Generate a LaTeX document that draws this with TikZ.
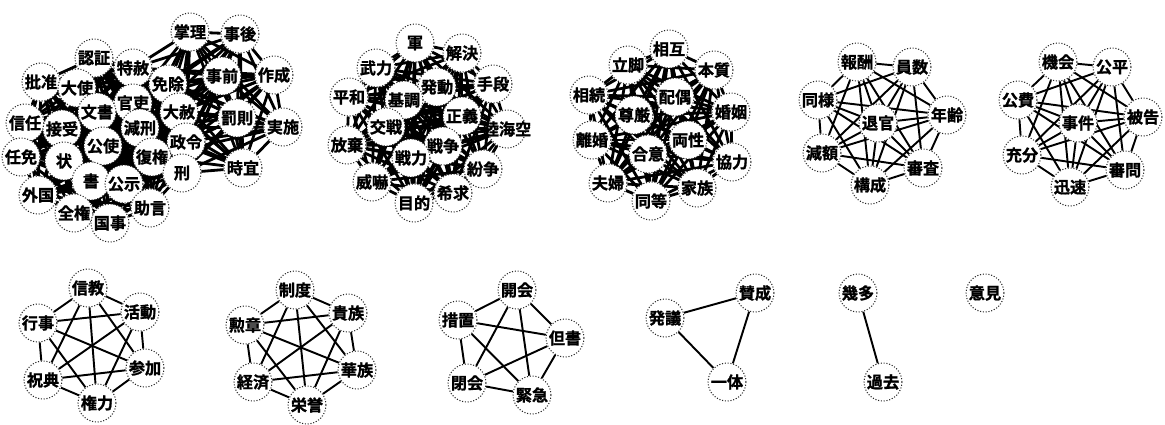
\documentclass[tikz,border=0pt]{standalone}
\usepackage{fontspec}
\newfontfamily\jpfont{Noto Sans CJK JP Bold}[FakeBold=1.2]
\usetikzlibrary{backgrounds}

\tikzset{
  word/.style={circle, draw=black!85, densely dotted, line width=0.6pt, fill=white, minimum size=21.6pt, inner sep=0pt, font=\jpfont\fontsize{9.2}{10}\selectfont},
  link/.style={line width=1.1pt},
  mesh/.style={line width=1.6pt},
}

\begin{document}
\begin{tikzpicture}[x=0.02cm, y=-0.02cm]
\useasboundingbox (0,0) rectangle (1165,424);
% first cluster
\node[word] (a1) at (190,32) {掌理};
\node[word] (a2) at (240,34) {事後};
\node[word] (a3) at (94,58) {認証};
\node[word] (a4) at (133,68) {特赦};
\node[word] (a5) at (222,76) {事前};
\node[word] (a6) at (274,75) {作成};
\node[word] (a7) at (41,82) {批准};
\node[word] (a8) at (77,88) {大使};
\node[word] (a9) at (168,84) {免除};
\node[word] (a10) at (133,103) {官吏};
\node[word] (a11) at (97,112) {文書};
\node[word] (a12) at (179,112) {大赦};
\node[word] (a13) at (237,118) {罰則};
\node[word] (a14) at (283,127) {実施};
\node[word] (a15) at (25,123) {信任};
\node[word] (a16) at (62,129) {接受};
\node[word] (a17) at (140,128) {減刑};
\node[word] (a18) at (186,142) {政令};
\node[word] (a19) at (103,146) {公使};
\node[word] (a20) at (21,157) {任免};
\node[word] (a21) at (64,161) {状};
\node[word] (a22) at (152,157) {復権};
\node[word] (a23) at (243,168) {時宜};
\node[word] (a24) at (182,173) {刑};
\node[word] (a25) at (91,181) {書};
\node[word] (a26) at (124,184) {公示};
\node[word] (a27) at (38,195) {外国};
\node[word] (a28) at (150,208) {助言};
\node[word] (a29) at (74,213) {全権};
\node[word] (a30) at (110,223) {国事};
% second cluster
\node[word] (b1) at (415,43) {軍};
\node[word] (b2) at (462,53) {解決};
\node[word] (b3) at (376,68) {武力};
\node[word] (b4) at (493,84) {手段};
\node[word] (b5) at (437,87) {発動};
\node[word] (b6) at (349,97) {平和};
\node[word] (b7) at (404,100) {基調};
\node[word] (b8) at (462,116) {正義};
\node[word] (b9) at (386,127) {交戦};
\node[word] (b10) at (507,129) {\makebox[0pt]{陸海空}};
\node[word] (b11) at (347,145) {放棄};
\node[word] (b12) at (443,146) {戦争};
\node[word] (b13) at (411,158) {戦力};
\node[word] (b14) at (483,169) {紛争};
\node[word] (b15) at (372,182) {威嚇};
\node[word] (b16) at (453,193) {希求};
\node[word] (b17) at (414,203) {目的};
% third cluster
\node[word] (c1) at (669,49) {相互};
\node[word] (c2) at (628,65) {立脚};
\node[word] (c3) at (714,70) {本質};
\node[word] (c4) at (589,95) {相続};
\node[word] (c5) at (675,97) {配偶};
\node[word] (c6) at (731,112) {婚姻};
\node[word] (c7) at (634,115) {尊厳};
\node[word] (c8) at (592,140) {離婚};
\node[word] (c9) at (688,140) {両性};
\node[word] (c10) at (648,154) {合意};
\node[word] (c11) at (732,162) {協力};
\node[word] (c12) at (608,183) {夫婦};
\node[word] (c13) at (697,188) {家族};
\node[word] (c14) at (651,201) {同等};
% fourth cluster
\node[word] (d1) at (857,62) {報酬};
\node[word] (d2) at (912,67) {員数};
\node[word] (d3) at (818,100) {同様};
\node[word] (d4) at (947,115) {年齢};
\node[word] (d5) at (878,123) {退官};
\node[word] (d6) at (822,153) {減額};
\node[word] (d7) at (923,168) {審査};
\node[word] (d8) at (870,185) {構成};
% fifth cluster
\node[word] (e1) at (1058,62) {機会};
\node[word] (e2) at (1112,67) {公平};
\node[word] (e3) at (1018,100) {公費};
\node[word] (e4) at (1143,117) {被告};
\node[word] (e5) at (1078,123) {事件};
\node[word] (e6) at (1022,155) {充分};
\node[word] (e7) at (1125,170) {審問};
\node[word] (e8) at (1070,187) {迅速};
% bottom row
\node[word] (f1) at (88,288) {信教};
\node[word] (f2) at (140,312) {活動};
\node[word] (f3) at (38,323) {行事};
\node[word] (f4) at (145,368) {参加};
\node[word] (f5) at (43,380) {祝典};
\node[word] (f6) at (97,403) {権力};
\node[word] (g1) at (295,290) {制度};
\node[word] (g2) at (348,313) {貴族};
\node[word] (g3) at (245,325) {勲章};
\node[word] (g4) at (357,370) {華族};
\node[word] (g5) at (253,382) {経済};
\node[word] (g6) at (307,405) {栄誉};
\node[word] (h1) at (517,290) {開会};
\node[word] (h2) at (458,320) {措置};
\node[word] (h3) at (565,338) {但書};
\node[word] (h4) at (467,383) {閉会};
\node[word] (h5) at (532,395) {緊急};
\node[word] (i1) at (665,318) {発議};
\node[word] (i2) at (755,293) {賛成};
\node[word] (i3) at (727,382) {一体};
\node[word] (j1) at (858,293) {幾多};
\node[word] (j2) at (883,382) {過去};
\node[word] (k1) at (985,293) {意見};

\begin{scope}[on background layer]
% dense clusters
\foreach \i in {1,2,4,5,6,9,10,12,13,14,17,18,22,23,24}
  \foreach \j in {1,2,4,5,6,9,10,12,13,14,17,18,22,23,24}
    {\ifnum\i<\j \draw[mesh] (a\i) -- (a\j); \fi}
\foreach \i in {3,4,7,8,9,10,11,12,15,16,17,18,19,20,21,22,24,25,26,27,28,29,30}
  \foreach \j in {3,4,7,8,9,10,11,12,15,16,17,18,19,20,21,22,24,25,26,27,28,29,30}
    {\ifnum\i<\j \draw[mesh] (a\i) -- (a\j); \fi}
\foreach \i in {1,...,17}
  \foreach \j in {1,...,17}
    {\ifnum\i<\j \draw[mesh] (b\i) -- (b\j); \fi}
\foreach \i in {1,...,14}
  \foreach \j in {1,...,14}
    {\ifnum\i<\j \draw[mesh] (c\i) -- (c\j); \fi}
% small cliques
\foreach \n/\k in {d/8,e/8,f/6,g/6,h/5,i/3}
  \foreach \i in {1,...,\k}
    \foreach \j in {1,...,\k}
      {\ifnum\i<\j \draw[link] (\n\i) -- (\n\j); \fi}
\draw[link] (j1) -- (j2);
\end{scope}
\end{tikzpicture}
\end{document}
